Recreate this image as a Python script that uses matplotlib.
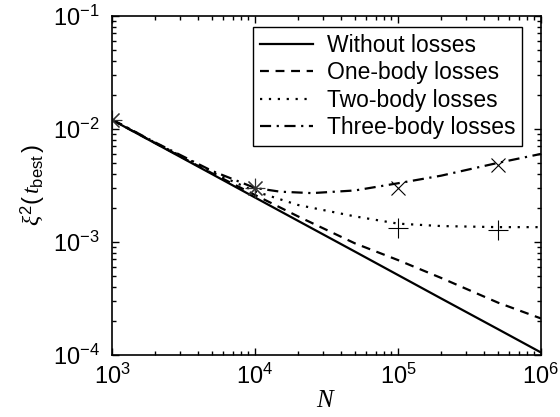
import matplotlib
matplotlib.use('Agg')
import matplotlib.pyplot as plt

plt.rcParams['font.family'] = ['Liberation Sans', 'DejaVu Sans']
plt.rcParams['mathtext.fontset'] = 'custom'
plt.rcParams['mathtext.rm'] = 'Liberation Sans'
plt.rcParams['mathtext.it'] = 'Liberation Serif:italic'

# atom number
N = [1e3, 2e3, 5e3, 1e4, 2e4, 5e4, 1e5, 2e5, 5e5, 1e6]
no_loss = [1.2e-2, 7.46e-3, 3.98e-3, 2.47e-3, 1.535e-3, 8.2e-4, 5.09e-4, 3.16e-4, 1.69e-4, 1.05e-4]
one_body = [1.2e-2, 7.5e-3, 4.05e-3, 2.6e-3, 1.68e-3, 9.7e-4, 6.9e-4, 4.8e-4, 2.9e-4, 2.1e-4]
two_body = [1.21e-2, 7.55e-3, 4.15e-3, 2.8e-3, 2.12e-3, 1.68e-3, 1.45e-3, 1.38e-3, 1.35e-3, 1.35e-3]
N3 = [1e3, 2e3, 5e3, 1e4, 1.5e4, 2.5e4, 5e4, 1e5, 2e5, 5e5, 1e6]
three_body = [1.21e-2, 7.6e-3, 4.25e-3, 3.0e-3, 2.78e-3, 2.7e-3, 2.85e-3, 3.3e-3, 3.85e-3, 5.0e-3, 6.0e-3]

# simulation points
N_star = [1e3, 1e4]
xi_star = [1.2e-2, 3.0e-3]
N_cross = [1e5, 5e5]
xi_cross = [3.0e-3, 4.8e-3]
N_plus = [1e5, 5e5]
xi_plus = [1.33e-3, 1.28e-3]

labels = ['Without losses', 'One-body losses', 'Two-body losses', 'Three-body losses']

fig = plt.figure(figsize=(5.6, 4.17), dpi=100)
ax = fig.add_axes([0.2, 0.149, 0.766, 0.813])

lw = 1.6
ax.plot(N, no_loss, color='black', lw=lw, ls='-', label=labels[0])
ax.plot(N, one_body, color='black', lw=lw, ls=(0, (4, 3)), label=labels[1])
ax.plot(N, two_body, color='black', lw=lw, ls=(0, (1, 3)), label=labels[2])
ax.plot(N3, three_body, color='black', lw=lw, ls=(0, (5, 2.5, 1, 2.5)), label=labels[3])

ax.plot(N_star, xi_star, ls='none', marker=(8, 2, 0), ms=14, mew=0.8, color='#333333')
ax.plot(N_cross, xi_cross, ls='none', marker='x', ms=10, mew=0.8, color='black')
ax.plot(N_plus, xi_plus, ls='none', marker='+', ms=14, mew=0.8, color='black')

ax.set_xscale('log')
ax.set_yscale('log')
ax.set_xlim(1e3, 1e6)
ax.set_ylim(1e-4, 1e-1)

ax.tick_params(which='both', direction='in', top=True, right=True, labelsize=17, width=1)
ax.tick_params(which='major', length=5)
ax.tick_params(axis='y', which='major', pad=9)
ax.tick_params(axis='x', which='major', pad=6)
ax.tick_params(which='minor', length=3)
for s in ax.spines.values():
    s.set_linewidth(1.2)

ax.set_xlabel(r'$N$', fontsize=18, labelpad=0)
ax.set_ylabel(r'$\xi^2(\,t_{\mathrm{best}}\,)$', fontsize=17, labelpad=4)

leg = ax.legend(loc='upper right', bbox_to_anchor=(0.956, 0.968), fontsize=16.5,
                frameon=True, fancybox=False, framealpha=1, edgecolor='black',
                handlelength=2.3, handletextpad=0.6, labelspacing=0.2,
                borderpad=0.3, borderaxespad=0)
leg.get_frame().set_linewidth(1.0)

fig.savefig('out.png', dpi=100)
